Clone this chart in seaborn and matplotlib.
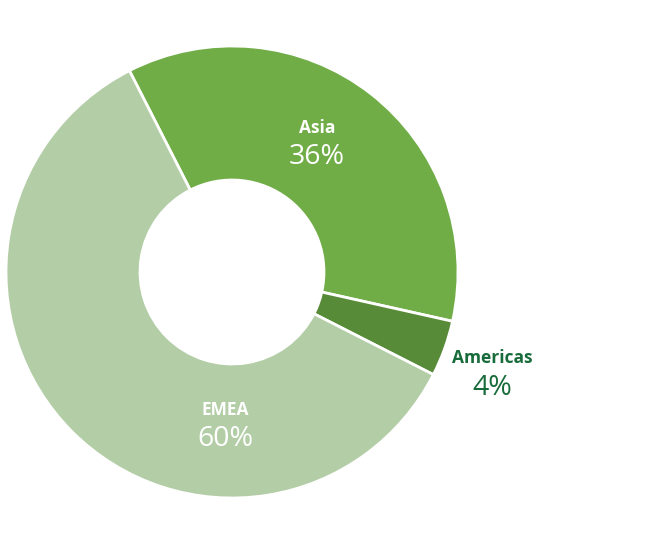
import matplotlib
matplotlib.use("Agg")
import matplotlib.pyplot as plt
import seaborn as sns

regions = ["Asia", "Americas", "EMEA"]
shares = [36, 4, 60]
slice_colors = ["#70AD47", "#588B38", "#B3CEA6"]
label_colors = ["white", "#186B3A", "white"]
# label anchor (x, y) in data units, circle radius = 1
label_pos = [(0.376, 0.637), (1.15, -0.382), (-0.031, -0.61)]

sns.set_theme(style="white")
plt.rcParams['font.family'] = ['Open Sans', 'DejaVu Sans']

fig = plt.figure(figsize=(6.5, 5.44), dpi=100)
ax = fig.add_axes([6 / 650, 46 / 544, 452 / 650, 452 / 544])

wedges, _ = ax.pie(shares, colors=slice_colors, startangle=117, counterclock=False,
                   radius=1, wedgeprops=dict(width=0.593, edgecolor="white", linewidth=2))

for name, val, col, (x, y) in zip(regions, shares, label_colors, label_pos):
    ax.text(x, y, name, ha="center", va="center", color=col,
            fontsize=12.5, fontweight="bold")
    ax.text(x, y - 0.13, f"{val}%", ha="center", va="center", color=col,
            fontsize=20.5)

ax.set_xlim(-1, 1)
ax.set_ylim(-1, 1)
ax.set_aspect("equal")
ax.axis("off")

fig.savefig("out.png", dpi=100, facecolor="white")
